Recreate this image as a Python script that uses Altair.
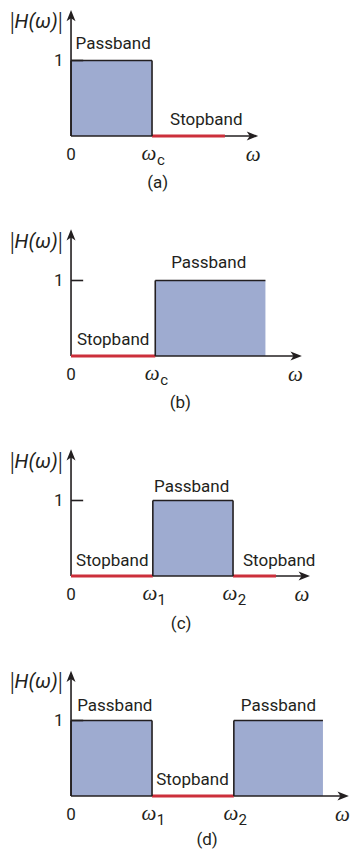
import altair as alt
import pandas as pd

# ---------------- data ----------------
panel_ids = ["a", "b", "c", "d"]
panel_titles = ["(a)", "(b)", "(c)", "(d)"]
title_x = [1.07, 1.35, 1.36, 1.68]
title_y = [-0.62, -0.62, -0.64, -0.58]

# passbands (gain 1)
pass_panel = ["a", "b", "c", "d", "d"]
pass_start = [0.0, 1.04, 1.01, 0.0, 2.01]
pass_end = [1.0, 2.40, 2.00, 1.00, 3.11]
pass_right_edge = [True, False, True, True, False]
pass_label_x = [0.52, 1.70, 1.49, 0.54, 2.56]
pass_label_y = [1.22, 1.23, 1.18, 1.19, 1.19]

# stopbands (gain 0)
stop_panel = ["a", "b", "c", "c", "d"]
stop_start = [1.0, 0.0, 0.0, 2.0, 1.0]
stop_end = [1.90, 1.04, 1.01, 2.53, 2.01]
stop_label_x = [1.67, 0.52, 0.51, 2.57, 1.50]
stop_label_y = [0.21, 0.21, 0.20, 0.20, 0.21]

# frequency-axis extent and its label
axis_end = [2.31, 2.85, 2.95, 3.43]
omega_label_x = [2.25, 2.77, 2.85, 3.35]
mag_axis_top = [1.67, 1.68, 1.68, 1.66]

# frequency tick labels
freq_panel = ["a", "b", "c", "c", "d", "d"]
freq_pos = [1.0, 1.04, 1.01, 2.0, 1.0, 2.01]
freq_sub = ["c", "c", "1", "2", "1", "2"]

label_y = -0.25
mag_label = "H(ω)"
mag_label_x = -0.43
mag_label_y = 1.51
one_label_x = -0.15
tick_len = 0.15

# ---------------- style ----------------
INK = "#231f20"
FILL = "#9eabd0"
RED = "#cc2f3b"
FONT = "Roboto"
SERIF = "Liberation Serif"

X_DOMAIN = [-0.778, 3.444]
W = 342
U = 75.5  # px per unit of gain
HEIGHTS = [220, 220, 220, 182]
BASE = 128

pass_df = pd.DataFrame(dict(panel=pass_panel, start=pass_start, end=pass_end,
                            right=pass_right_edge, lx=pass_label_x, ly=pass_label_y,
                            lo=0.0, hi=1.0, txt="Passband"))
stop_df = pd.DataFrame(dict(panel=stop_panel, start=stop_start, end=stop_end,
                            lx=stop_label_x, ly=stop_label_y, lvl=0.0, txt="Stopband"))

# outline segments derived from passband edges
seg_rows = []
for r in pass_df.itertuples():
    seg_rows.append(dict(panel=r.panel, x=r.start, x2=r.end, y=r.hi, y2=r.hi))
    seg_rows.append(dict(panel=r.panel, x=r.start, x2=r.start, y=r.lo, y2=r.hi))
    if r.right:
        seg_rows.append(dict(panel=r.panel, x=r.end, x2=r.end, y=r.lo, y2=r.hi))
seg_df = pd.DataFrame(seg_rows)

freq_df = pd.DataFrame(dict(panel=freq_panel, x=freq_pos, y=label_y, sub=freq_sub, w="ω"))

UP = "M0,-1L0.75,0.9L0,0.4L-0.75,0.9Z"
RIGHT = "M1,0L-0.9,0.75L-0.4,0L-0.9,-0.75Z"
ARROW = 12.0


def panel(i):
    pid = panel_ids[i]
    H = HEIGHTS[i]
    ydom = [-(H - BASE) / U, BASE / U]
    xs = alt.Scale(domain=X_DOMAIN, nice=False, zero=False)
    ys = alt.Scale(domain=ydom, nice=False, zero=False)

    def X(f):
        return alt.X(f, type="quantitative", scale=xs, axis=None)

    def Y(f):
        return alt.Y(f, type="quantitative", scale=ys, axis=None)

    pdf = pass_df[pass_df.panel == pid]
    sdf = stop_df[stop_df.panel == pid]
    gdf = seg_df[seg_df.panel == pid]
    fdf = freq_df[freq_df.panel == pid]
    ax_end = axis_end[i]
    top = mag_axis_top[i]
    axes_df = pd.DataFrame(dict(x=[0.0, 0.0], x2=[ax_end - ARROW / 2 / 81, 0.0],
                                y=[0.0, 0.0], y2=[0.0, top - ARROW / 2 / U]))
    arrow_up = pd.DataFrame(dict(x=[0.0], y=[top - ARROW / 2 / U]))
    arrow_rt = pd.DataFrame(dict(x=[ax_end - ARROW / 2 / 81], y=[0.0]))
    misc = pd.DataFrame(dict(zx=[0.0], zy=[label_y], one_x=[one_label_x], one_y=[1.0],
                             mx=[mag_label_x], my=[mag_label_y], mtxt=[mag_label],
                             wx=[omega_label_x[i]], wy=[label_y],
                             tx=[title_x[i]], ty=[title_y[i]], ttxt=[panel_titles[i]],
                             k0=[0.0], k1=[tick_len], one=[1.0]))

    layers = [
        alt.Chart(pdf).mark_rect(color=FILL, opacity=1).encode(
            x=X("start"), x2="end", y=Y("lo"), y2="hi"),
        alt.Chart(axes_df).mark_rule(color=INK, strokeWidth=1.6).encode(
            x=X("x"), x2="x2", y=Y("y"), y2="y2"),
        alt.Chart(sdf).mark_rule(color=RED, strokeWidth=3).encode(
            x=X("start"), x2="end", y=Y("lvl")),
        alt.Chart(gdf).mark_rule(color=INK, strokeWidth=1.6).encode(
            x=X("x"), x2="x2", y=Y("y"), y2="y2"),
        alt.Chart(misc).mark_rule(color=INK, strokeWidth=1.6).encode(
            x=X("k0"), x2="k1", y=Y("one")),
        alt.Chart(arrow_up).mark_point(shape=UP, filled=True, size=ARROW ** 2,
                                       color=INK, opacity=1, strokeWidth=0).encode(
            x=X("x"), y=Y("y")),
        alt.Chart(arrow_rt).mark_point(shape=RIGHT, filled=True, size=ARROW ** 2,
                                       color=INK, opacity=1, strokeWidth=0).encode(
            x=X("x"), y=Y("y")),
        alt.Chart(pdf).mark_text(font=FONT, fontSize=17, color=INK).encode(
            x=X("lx"), y=Y("ly"), text="txt:N"),
        alt.Chart(sdf).mark_text(font=FONT, fontSize=17, color=INK).encode(
            x=X("lx"), y=Y("ly"), text="txt:N"),
        alt.Chart(misc).mark_text(font=FONT, fontSize=17, color=INK, text="0").encode(
            x=X("zx"), y=Y("zy")),
        alt.Chart(misc).mark_text(font=FONT, fontSize=17, color=INK, text="1").encode(
            x=X("one_x"), y=Y("one_y")),
        # |H(ω)| : upright bars around an italic H(ω)
        alt.Chart(misc).mark_text(font=FONT, fontSize=20, fontStyle="italic",
                                  color=INK).encode(
            x=X("mx"), y=Y("my"), text="mtxt:N"),
        alt.Chart(misc).mark_text(font=FONT, fontSize=25, fontWeight=300, color=INK,
                                  text="|", dx=-24, dy=1).encode(
            x=X("mx"), y=Y("my")),
        alt.Chart(misc).mark_text(font=FONT, fontSize=25, fontWeight=300, color=INK,
                                  text="|", dx=24, dy=1).encode(
            x=X("mx"), y=Y("my")),
        alt.Chart(misc).mark_text(font=SERIF, fontSize=21, fontStyle="italic",
                                  color=INK, text="ω").encode(
            x=X("wx"), y=Y("wy")),
        alt.Chart(misc).mark_text(font=FONT, fontSize=17, color=INK).encode(
            x=X("tx"), y=Y("ty"), text="ttxt:N"),
    ]
    if len(fdf):
        layers += [
            alt.Chart(fdf).mark_text(font=SERIF, fontSize=21, fontStyle="italic",
                                     color=INK, dx=-3, dy=-1).encode(
                x=X("x"), y=Y("y"), text="w:N"),
            alt.Chart(fdf).mark_text(font=FONT, fontSize=15, color=INK,
                                     dx=9, dy=5).encode(
                x=X("x"), y=Y("y"), text="sub:N"),
        ]
    return alt.layer(*layers).properties(width=W, height=H)


chart = alt.vconcat(*[panel(i) for i in range(4)], spacing=0, bounds="flush").properties(
    padding=0
).configure_view(stroke=None).configure_concat(spacing=0)

chart.save("out.html", embed_options={"renderer": "svg", "actions": False})
